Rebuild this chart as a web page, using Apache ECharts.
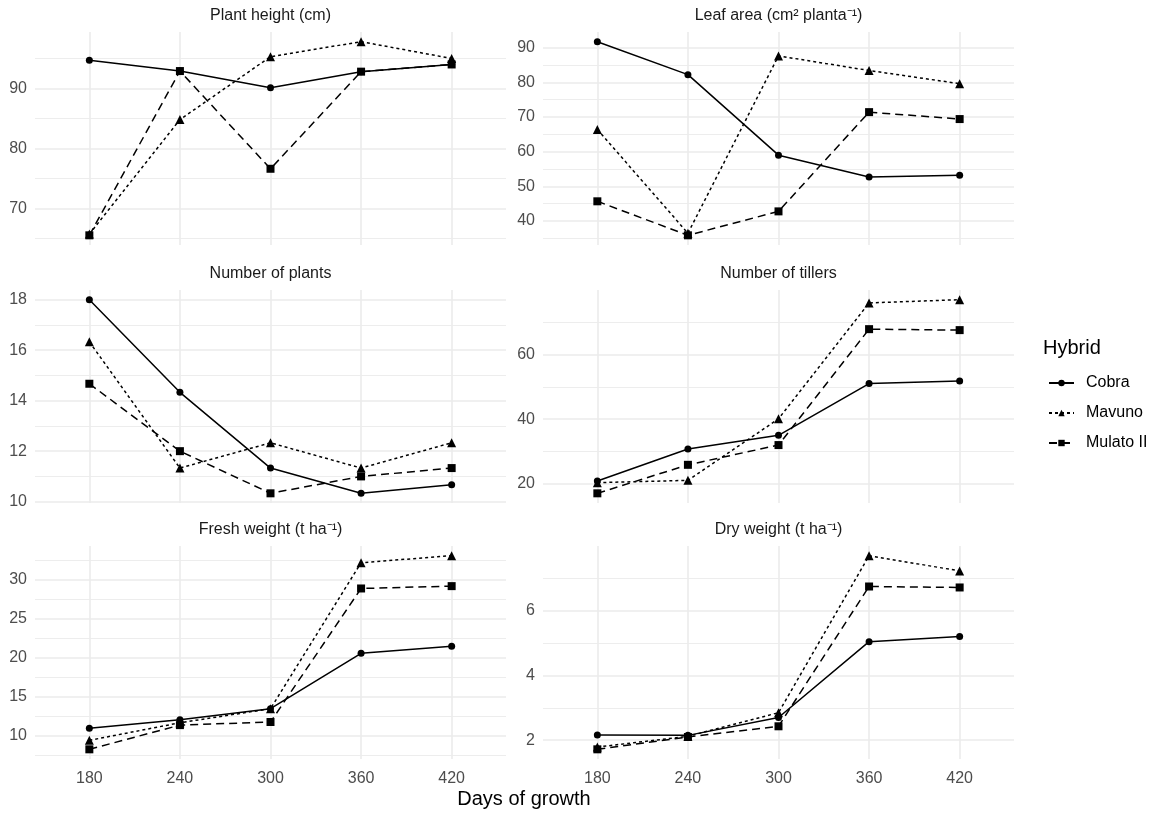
<!DOCTYPE html>
<html>
<head>
<meta charset="utf-8">
<script src="https://cdn.jsdelivr.net/npm/echarts@6/dist/echarts.min.js"></script>
<style>
  html, body { margin: 0; padding: 0; background: #fff; }
  #chart { width: 1152px; height: 813px; }
</style>
</head>
<body>
<div id="chart"></div>
<script>
// days of growth (x axis)
var days = [180, 240, 300, 360, 420];
var hybrids = ['Cobra', 'Mavuno', 'Mulato II'];

// Plant height (cm)
var heightCobra  = [94.7, 92.9, 90.1, 92.8, 94.0];
var heightMavuno = [65.7, 84.8, 95.3, 97.8, 95.0];
var heightMulato = [65.5, 92.9, 76.6, 92.8, 94.0];
// Leaf area
var leafCobra  = [91.7, 82.2, 59.0, 52.7, 53.2];
var leafMavuno = [66.4, 36.5, 87.6, 83.4, 79.6];
var leafMulato = [45.7, 35.9, 42.8, 71.4, 69.4];
// Number of plants
var plantsCobra  = [18.0, 14.33, 11.33, 10.33, 10.67];
var plantsMavuno = [16.33, 11.33, 12.33, 11.33, 12.33];
var plantsMulato = [14.67, 12.0, 10.33, 11.0, 11.33];
// Number of tillers
var tillersCobra  = [20.9, 30.8, 35.0, 51.0, 51.8];
var tillersMavuno = [20.4, 21.1, 40.1, 75.9, 76.9];
var tillersMulato = [17.1, 25.9, 32.0, 67.8, 67.5];
// Fresh weight
var freshCobra  = [11.0, 12.1, 13.5, 20.6, 21.5];
var freshMavuno = [9.45, 11.7, 13.5, 32.2, 33.1];
var freshMulato = [8.3, 11.4, 11.8, 28.9, 29.2];
// Dry weight
var dryCobra  = [2.16, 2.15, 2.70, 5.04, 5.20];
var dryMavuno = [1.79, 2.12, 2.85, 7.69, 7.22];
var dryMulato = [1.72, 2.10, 2.43, 6.74, 6.71];

// y tick labels (major) and minor grid values per panel
var heightTicks  = [70, 80, 90];          var heightMinor  = [65, 75, 85, 95];
var leafTicks    = [40, 50, 60, 70, 80, 90]; var leafMinor = [35, 45, 55, 65, 75, 85];
var plantsTicks  = [10, 12, 14, 16, 18];  var plantsMinor  = [11, 13, 15, 17];
var tillersTicks = [20, 40, 60];          var tillersMinor = [30, 50, 70];
var freshTicks   = [10, 15, 20, 25, 30];  var freshMinor   = [7.5, 12.5, 17.5, 22.5, 27.5, 32.5];
var dryTicks     = [2, 4, 6];             var dryMinor     = [3, 5, 7];

var panels = [
    {title: 'Plant height (cm)', data: [heightCobra, heightMavuno, heightMulato], ticks: heightTicks, minor: heightMinor},
    {title: 'Leaf area (cm² planta⁻¹)', data: [leafCobra, leafMavuno, leafMulato], ticks: leafTicks, minor: leafMinor},
    {title: 'Number of plants', data: [plantsCobra, plantsMavuno, plantsMulato], ticks: plantsTicks, minor: plantsMinor},
    {title: 'Number of tillers', data: [tillersCobra, tillersMavuno, tillersMulato], ticks: tillersTicks, minor: tillersMinor},
    {title: 'Fresh weight (t ha⁻¹)', data: [freshCobra, freshMavuno, freshMulato], ticks: freshTicks, minor: freshMinor},
    {title: 'Dry weight (t ha⁻¹)', data: [dryCobra, dryMavuno, dryMulato], ticks: dryTicks, minor: dryMinor}
];

var font = '"Liberation Sans", Arial, sans-serif';
var gridColor = '#EBEBEB';
var lefts = [35, 543];
var tops = [32, 290, 546];
var plotW = 471, plotH = 213;

var lineTypes = ['solid', [3, 3], [8, 5]];
var symbols = ['circle', 'triangle', 'rect'];
var symbolSizes = [7, 9, 8];

var grids = [], xAxes = [], yAxes = [], series = [], titles = [];

panels.forEach(function (p, i) {
    var col = i % 2, row = Math.floor(i / 2);
    grids.push({left: lefts[col], top: tops[row], width: plotW, height: plotH});

    // ggplot-like 5% expansion of the data range
    var all = [].concat(p.data[0], p.data[1], p.data[2]);
    var lo = Math.min.apply(null, all), hi = Math.max.apply(null, all);
    var pad = (hi - lo) * 0.05;

    xAxes.push({
        type: 'value', gridIndex: i, min: 144, max: 456,
        axisLine: {show: false},
        axisTick: {show: false, customValues: days},
        axisLabel: {show: row === 2, customValues: days, color: '#4D4D4D', fontSize: 16, fontFamily: font, margin: 12},
        splitLine: {show: true, lineStyle: {color: gridColor, width: 1.6}}
    });
    yAxes.push({
        type: 'value', gridIndex: i, min: lo - pad, max: hi + pad,
        axisLine: {show: false},
        axisTick: {show: false, customValues: p.ticks},
        axisLabel: {customValues: p.ticks, color: '#4D4D4D', fontSize: 16, fontFamily: font, margin: 8},
        splitLine: {show: true, lineStyle: {color: gridColor, width: 1.6}}
    });

    titles.push({
        text: p.title, left: lefts[col] + plotW / 2, top: tops[row] - 24, textAlign: 'center', padding: 0,
        textStyle: {fontSize: 16, fontWeight: 'normal', color: '#1A1A1A', fontFamily: font}
    });

    hybrids.forEach(function (h, k) {
        series.push({
            name: h, type: 'line', xAxisIndex: i, yAxisIndex: i,
            data: days.map(function (d, j) { return [d, p.data[k][j]]; }),
            symbol: symbols[k], symbolSize: symbolSizes[k], showAllSymbol: true,
            lineStyle: {color: '#000', width: 1.5, type: lineTypes[k]},
            itemStyle: {color: '#000'},
            animation: false
        });
    });
});

// minor grid lines on a second, hidden y axis per panel
panels.forEach(function (p, i) {
    yAxes.push({
        type: 'value', gridIndex: i, min: yAxes[i].min, max: yAxes[i].max, position: 'left',
        axisLine: {show: false},
        axisTick: {show: false, customValues: p.minor},
        axisLabel: {show: false, customValues: p.minor},
        splitLine: {show: true, lineStyle: {color: gridColor, width: 0.9}}
    });
});

titles.push({
    text: 'Days of growth', left: 524, top: 789, textAlign: 'center', padding: 0,
    textStyle: {fontSize: 20, fontWeight: 'normal', color: '#000', fontFamily: font}
});
titles.push({
    text: 'Hybrid', left: 1043, top: 338, padding: 0,
    textStyle: {fontSize: 20, fontWeight: 'normal', color: '#000', fontFamily: font}
});

var option = {
    backgroundColor: '#fff',
    animation: false,
    title: titles,
    legend: {
        data: hybrids, orient: 'vertical', left: 1048, top: 375, padding: 0,
        itemWidth: 25, itemHeight: 8, itemGap: 14,
        textStyle: {fontSize: 16, color: '#000', fontFamily: font, padding: [0, 0, 0, 7]}
    },
    grid: grids,
    xAxis: xAxes,
    yAxis: yAxes,
    series: series
};

var chart = echarts.init(document.getElementById('chart'));
chart.setOption(option);
</script>
</body>
</html>
